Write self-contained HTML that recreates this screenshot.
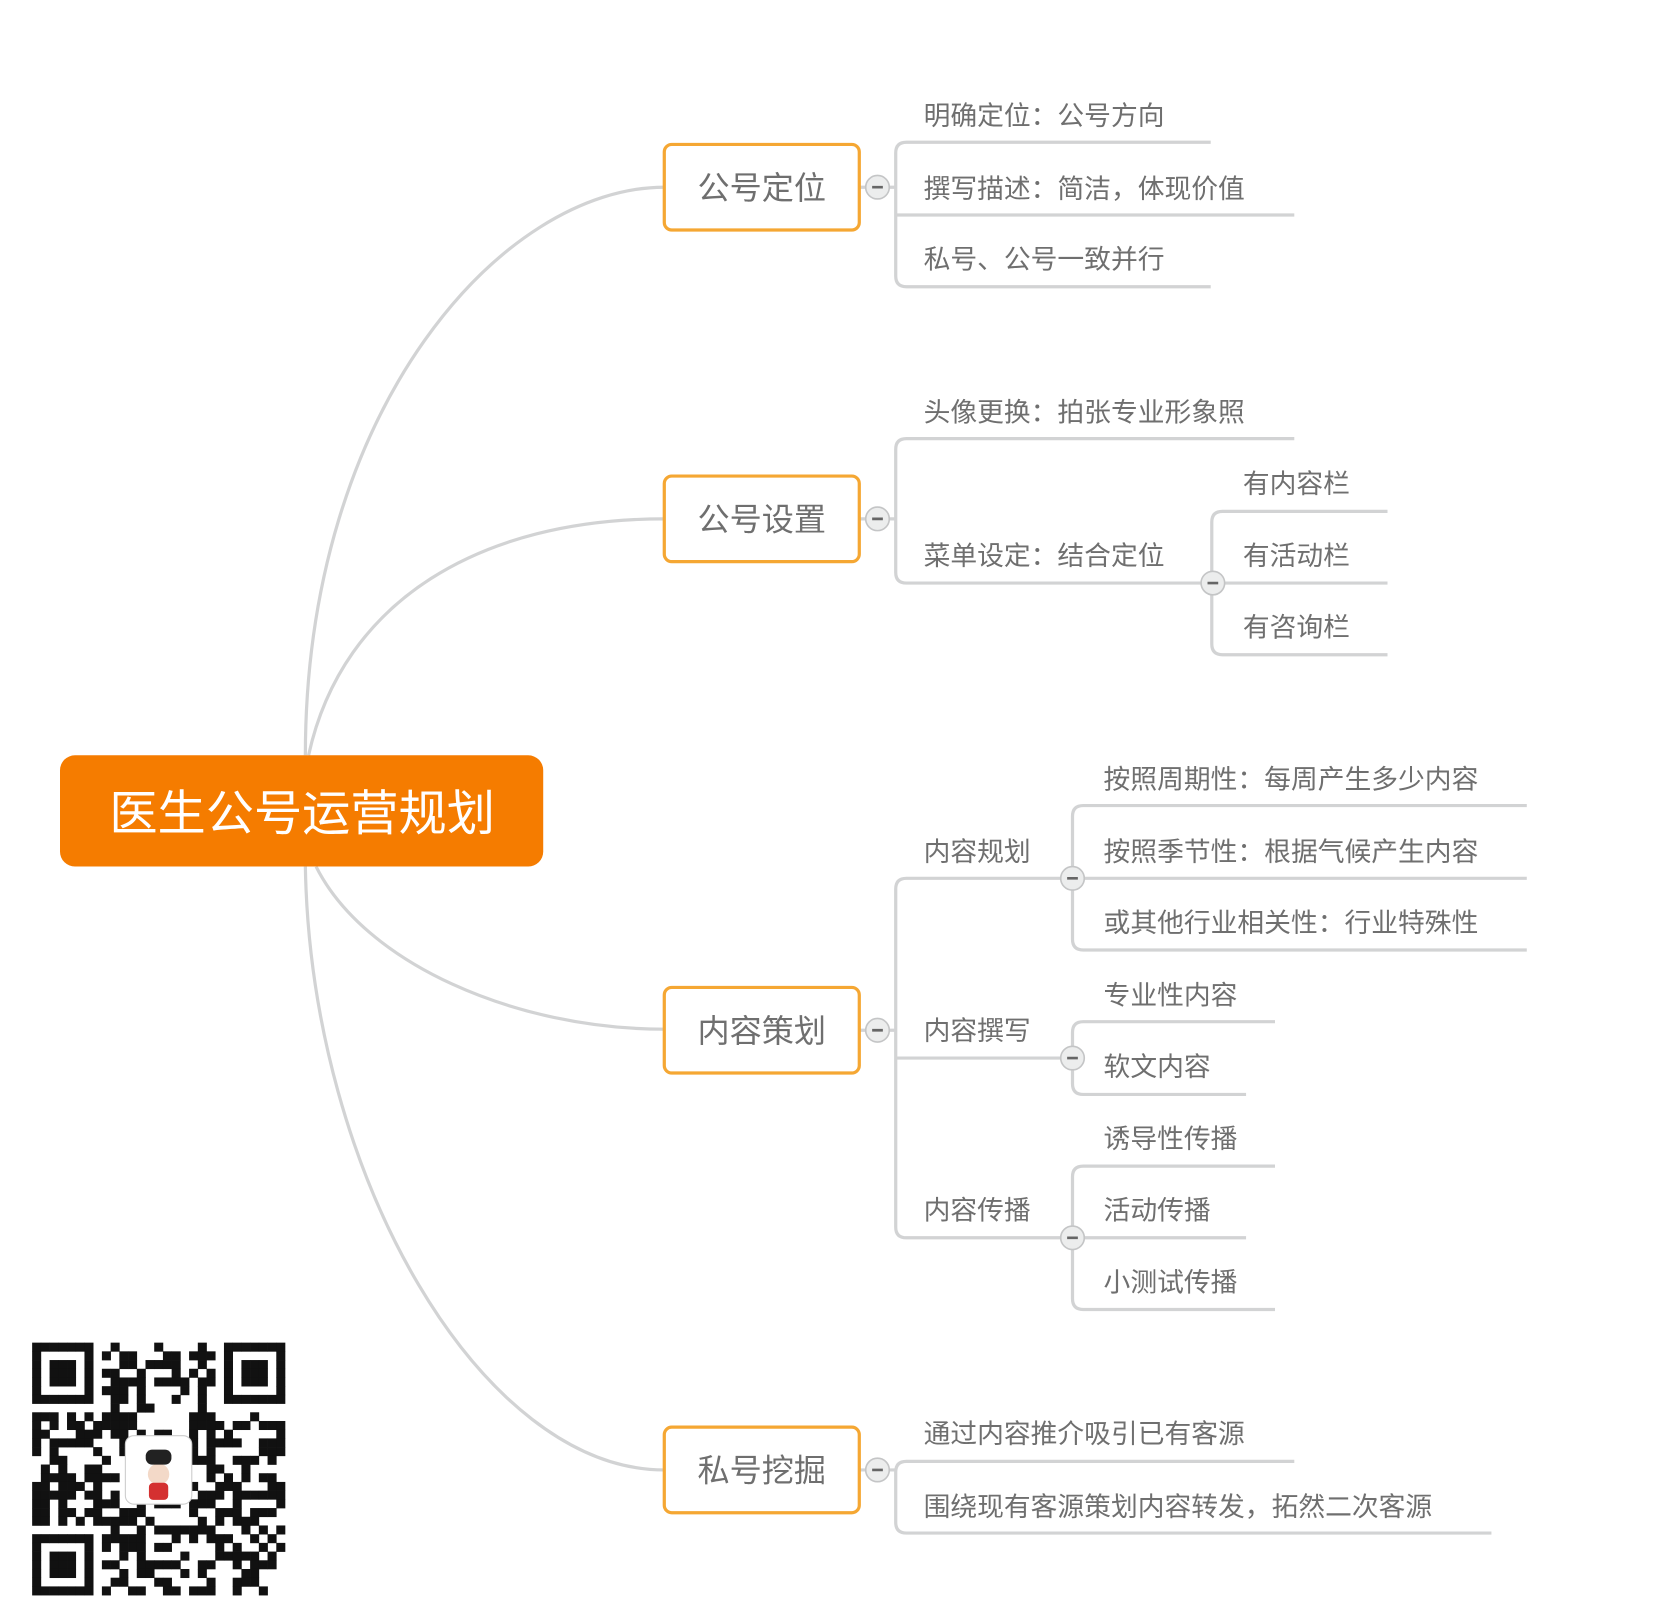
<!DOCTYPE html>
<html><head><meta charset="utf-8"><style>
html,body{margin:0;padding:0;background:#fff;}
svg{display:block;}
text{font-family:"Liberation Sans","Noto Sans CJK SC",sans-serif;fill:#6f6f6f;}
</style></head><body>
<svg id="s" width="1680" height="1624" viewBox="0 0 1568 1518" preserveAspectRatio="none" xmlns="http://www.w3.org/2000/svg">
<g fill="none" stroke="#d2d3d4" stroke-width="3">
<path d="M285,706 C285,380 470,175 620,175"/>
<path d="M288,706 C320,560 450,485 620,485"/>
<path d="M295,810 C340,900 480,962 620,962"/>
<path d="M285,810 C290,1100 450,1374 620,1374"/>
<path d="M802,175 H836"/>
<path d="M1130,133 H846 Q836,133 836,143 V258 Q836,268 846,268 H1130"/>
<path d="M836,201 H1208"/>
<path d="M802,485 H836"/>
<path d="M1208,410 H846 Q836,410 836,420 V535 Q836,545 846,545 H1131"/>
<path d="M1295,478 H1141 Q1131,478 1131,488 V602 Q1131,612 1141,612 H1295"/>
<path d="M1131,545 H1295"/>
<path d="M802,963 H836"/>
<path d="M1001,821 H846 Q836,821 836,831 V1147 Q836,1157 846,1157 H1001"/>
<path d="M836,989 H1001"/>
<path d="M1425,753 H1011 Q1001,753 1001,763 V878 Q1001,888 1011,888 H1425"/>
<path d="M1001,821 H1425"/>
<path d="M1190,955 H1011 Q1001,955 1001,965 V1013 Q1001,1023 1011,1023 H1163"/>
<path d="M1190,1090 H1011 Q1001,1090 1001,1100 V1214 Q1001,1224 1011,1224 H1190"/>
<path d="M1001,1157 H1163"/>
<path d="M802,1374 H836"/>
<path d="M1208,1366 H846 Q836,1366 836,1376 V1423 Q836,1433 846,1433 H1392"/>
</g>
<rect x="56" y="706" width="451" height="104" rx="14" fill="#f57c00"/>
<text x="282" y="776" text-anchor="middle" font-size="45" style="fill:#fff">医生公号运营规划</text>
<g fill="#fff" stroke="#f5a733" stroke-width="3">
<rect x="620" y="135" width="182" height="80" rx="7"/>
<rect x="620" y="445" width="182" height="80" rx="7"/>
<rect x="620" y="923" width="182" height="80" rx="7"/>
<rect x="620" y="1334" width="182" height="80" rx="7"/>
</g>
<g font-size="30" text-anchor="middle">
<text x="711" y="186">公号定位</text>
<text x="711" y="496">公号设置</text>
<text x="711" y="974">内容策划</text>
<text x="711" y="1385">私号挖掘</text>
</g>
<g fill="#eceded" stroke="#c4c5c6" stroke-width="1.5">
<circle cx="819" cy="175" r="11"/><circle cx="819" cy="485" r="11"/>
<circle cx="819" cy="963" r="11"/><circle cx="819" cy="1374" r="11"/>
<circle cx="1132" cy="545" r="11"/><circle cx="1001" cy="821" r="11"/>
<circle cx="1001" cy="989" r="11"/><circle cx="1001" cy="1157" r="11"/>
</g>
<g stroke="#666" stroke-width="2.5">
<path d="M814,175h10M814,485h10M814,963h10M814,1374h10M1127,545h10M996,821h10M996,989h10M996,1157h10"/>
</g>
<g font-size="25">
<text x="862" y="117">明确定位：公号方向</text>
<text x="862" y="185">撰写描述：简洁，体现价值</text>
<text x="862" y="251">私号、公号一致并行</text>
<text x="862" y="394">头像更换：拍张专业形象照</text>
<text x="862" y="528">菜单设定：结合定位</text>
<text x="1160" y="461">有内容栏</text>
<text x="1160" y="528">有活动栏</text>
<text x="1160" y="595">有咨询栏</text>
<text x="862" y="805">内容规划</text>
<text x="862" y="972">内容撰写</text>
<text x="862" y="1140">内容传播</text>
<text x="1030" y="737">按照周期性：每周产生多少内容</text>
<text x="1030" y="805">按照季节性：根据气候产生内容</text>
<text x="1030" y="871">或其他行业相关性：行业特殊性</text>
<text x="1030" y="939">专业性内容</text>
<text x="1030" y="1006">软文内容</text>
<text x="1030" y="1073">诱导性传播</text>
<text x="1030" y="1140">活动传播</text>
<text x="1030" y="1207">小测试传播</text>
<text x="862" y="1349">通过内容推介吸引已有客源</text>
<text x="862" y="1417">围绕现有客源策划内容转发，拓然二次客源</text>
</g>
<g id="qr"></g>
</svg>
<script>
(function(){
var g=document.getElementById('qr'),N=29,x0=30,y0=1255,m=236/N,h='';
var seed=12345;function r(){seed=(seed*1103515245+12345)&0x7fffffff;return seed/0x7fffffff;}
function finder(i,j){return (i<8&&j<8)||(i<8&&j>=N-8)||(i>=N-8&&j<8);}
for(var i=0;i<N;i++)for(var j=0;j<N;j++){
 var on;
 if(finder(i,j)){
  var a=i>=N-8?i-(N-7):i, b=j>=N-8?j-(N-7):j;
  if(a<0||b<0||a>6||b>6)on=false;
  else on=(a==0||a==6||b==0||b==6)||(a>=2&&a<=4&&b>=2&&b<=4);
 } else on=r()<0.5;
 if(on)h+='<rect x="'+(x0+j*m)+'" y="'+(y0+i*m)+'" width="'+(m+0.3)+'" height="'+(m+0.3)+'" fill="#111"/>';
}
h+='<rect x="117" y="1342" width="62" height="64" rx="8" fill="#fff" stroke="#ccc"/>';
h+='<circle cx="148" cy="1378" r="10" fill="#f3d9c8"/><rect x="136" y="1355" width="24" height="14" rx="6" fill="#222"/><rect x="139" y="1386" width="18" height="16" rx="4" fill="#d43030"/>';
g.innerHTML=h;
})();
</script>
</body></html>
